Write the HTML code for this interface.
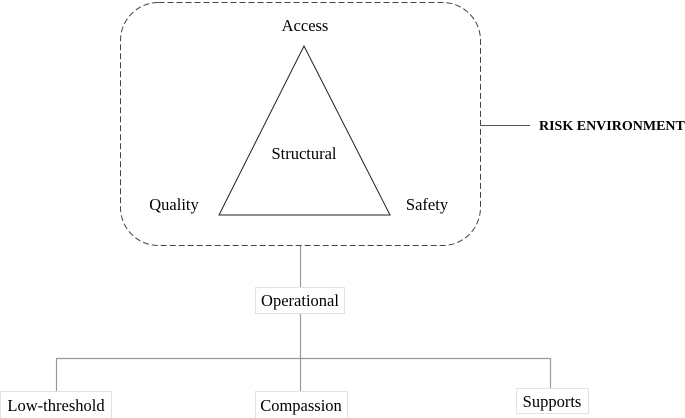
<!DOCTYPE html>
<html><head><meta charset="utf-8"><style>
html,body{margin:0;padding:0;background:#fff;}
svg{display:block;}
text{font-family:"Liberation Serif",serif;font-size:16.5px;fill:#000;}
</style></head><body>
<svg width="685" height="418" viewBox="0 0 685 418" xmlns="http://www.w3.org/2000/svg">
<rect x="120.5" y="2.5" width="360" height="243" rx="38" ry="38" fill="none" stroke="#444" stroke-width="1" stroke-dasharray="6,3"/>
<polygon points="304,46 219,215 390,215" fill="none" stroke="#222" stroke-width="1"/>
<text x="305" y="31" text-anchor="middle">Access</text>
<text x="304" y="159" text-anchor="middle">Structural</text>
<text x="174" y="210" text-anchor="middle">Quality</text>
<text x="427" y="210" text-anchor="middle">Safety</text>
<line x1="481" y1="125.5" x2="530" y2="125.5" stroke="#555"/>
<text x="539" y="130" style="font-weight:bold;font-size:14px">RISK ENVIRONMENT</text>
<g stroke="#999" stroke-width="1.2">
<line x1="300.5" y1="246" x2="300.5" y2="287"/>
<line x1="300.5" y1="313" x2="300.5" y2="391"/>
<line x1="56.5" y1="358.5" x2="550.5" y2="358.5"/>
<line x1="56.5" y1="358" x2="56.5" y2="391"/>
<line x1="550.5" y1="358" x2="550.5" y2="388"/>
</g>
<g fill="#fff" stroke="#e2e2e2" stroke-width="1">
<rect x="255.5" y="287.5" width="89" height="26"/>
<rect x="0.5" y="391.5" width="111" height="28"/>
<rect x="255.5" y="391.5" width="92" height="28"/>
<rect x="516.5" y="388.5" width="72" height="25"/>
</g>
<text x="300" y="306" text-anchor="middle">Operational</text>
<text x="56" y="411" text-anchor="middle">Low-threshold</text>
<text x="301" y="411" text-anchor="middle">Compassion</text>
<text x="552" y="407" text-anchor="middle">Supports</text>
</svg>
</body></html>
